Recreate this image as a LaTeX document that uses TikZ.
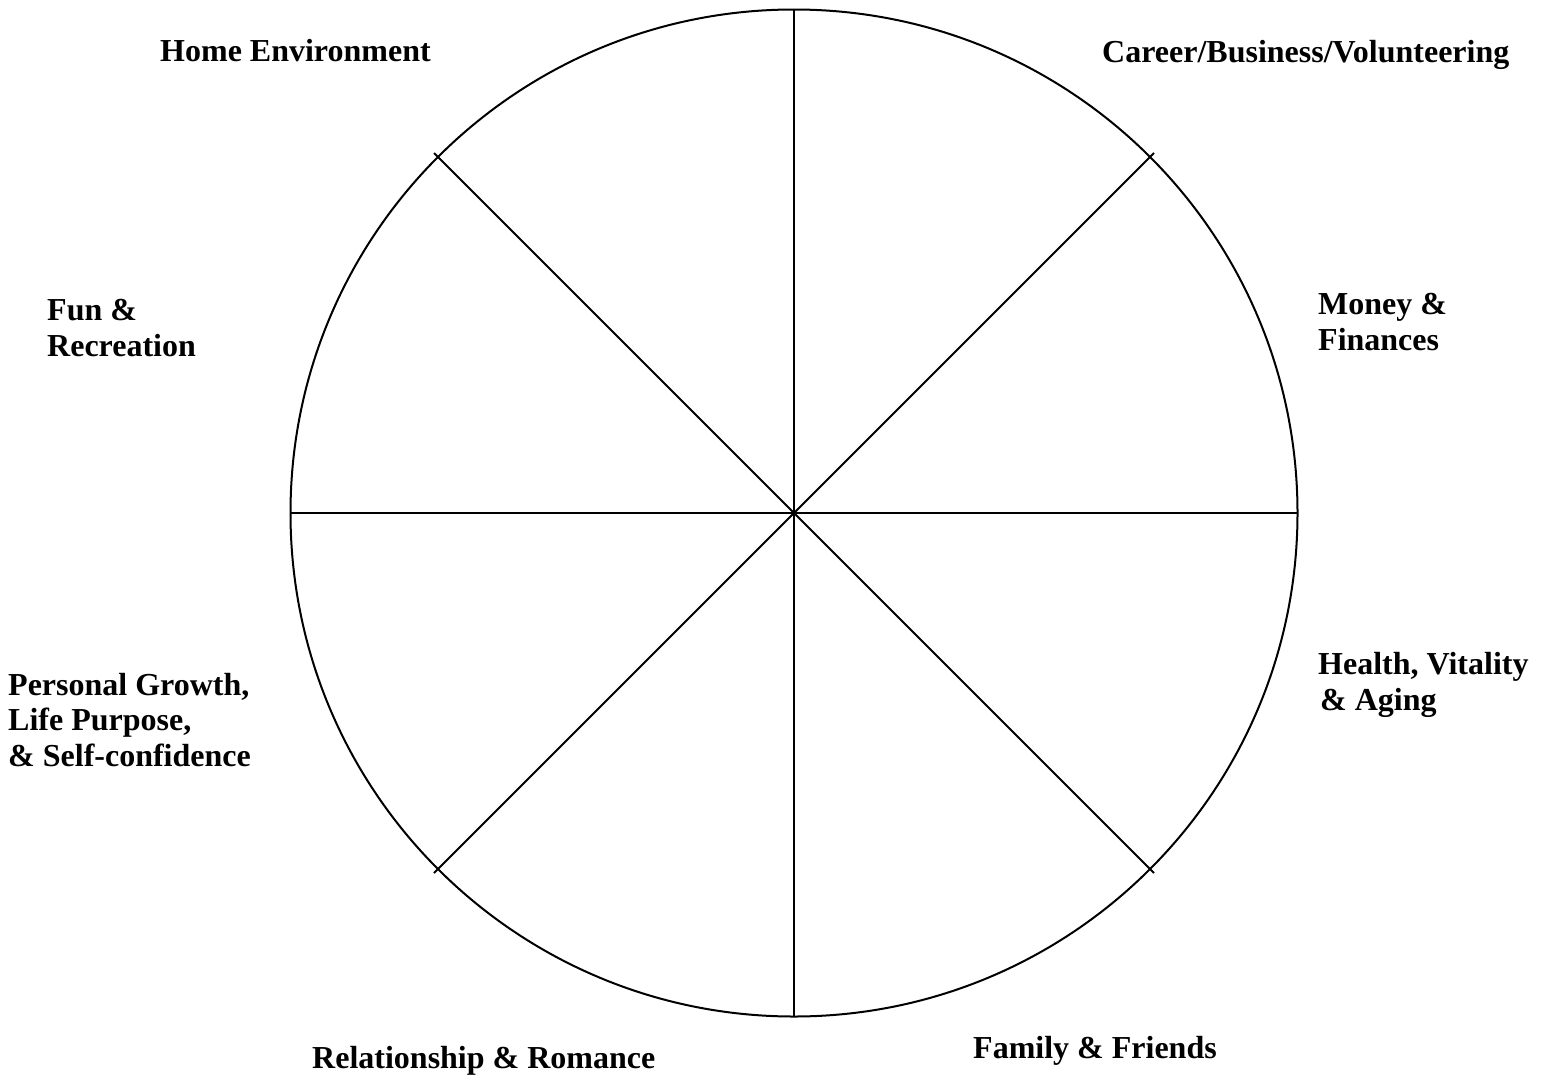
\documentclass[tikz,border=0pt]{standalone}
\usepackage{fontspec}
\setmainfont{Liberation Serif}
\begin{document}
\begin{tikzpicture}[x=1pt,y=-1pt,
  wheel/.style={line width=2pt,draw=black},
  lbl/.style={font=\bfseries\fontsize{32}{35.5}\selectfont,inner sep=0pt,anchor=base west,align=left}]
\useasboundingbox (0,0) rectangle (1547,1076);
\coordinate (c) at (794,513);
\draw[wheel] (c) circle[radius=503.5];
\coordinate (n) at (794,9.5);
\coordinate (s) at (794,1016.5);
\coordinate (w) at (290.5,513);
\coordinate (e) at (1297.5,513);
\coordinate (nw) at (434,153);
\coordinate (se) at (1154,873);
\coordinate (ne) at (1154,153);
\coordinate (sw) at (434,873);
\draw[wheel] (n) -- (s);
\draw[wheel] (w) -- (e);
\draw[wheel] (nw) -- (se);
\draw[wheel] (ne) -- (sw);
\node[lbl] (home) at (160,61) {Home Environment};
\node[lbl] (career) at (1102,62) {Career/Business/Volunteering};
\node[lbl] (fun) at (47,356) {Fun \&\\Recreation};
\node[lbl] (money) at (1318,350) {Money \&\\Finances};
\node[lbl] (health) at (1318,710) {Health, Vitality\\\hspace*{2pt}\& Aging};
\node[lbl] (growth) at (8,766) {Personal Growth,\\Life Purpose,\\\& Self-confidence};
\node[lbl] (rel) at (312,1068) {Relationship \& Romance};
\node[lbl] (fam) at (973,1058) {Family \& Friends};
\end{tikzpicture}
\end{document}
